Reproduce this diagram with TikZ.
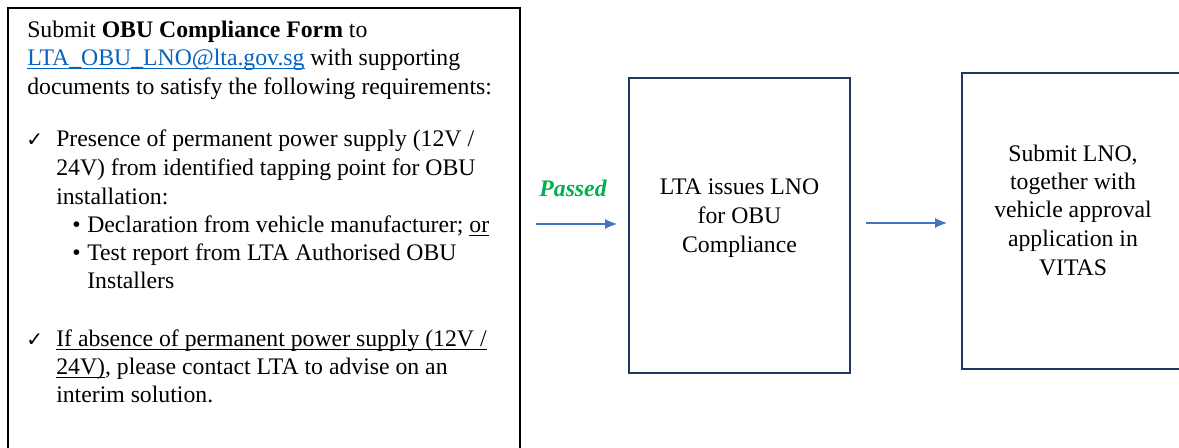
\documentclass[tikz,border=0pt]{standalone}
\usepackage{fontspec}
\setmainfont{Liberation Serif}
\newfontfamily\symfont{DejaVu Sans}
\usetikzlibrary{arrows.meta}
\definecolor{navy}{HTML}{1F3864}
\definecolor{linkblue}{HTML}{0563C1}
\definecolor{arrblue}{HTML}{4472C4}
\definecolor{passgreen}{HTML}{00B050}
\newcommand{\myul}[1]{\setbox0\hbox{#1}\rlap{\rule[-2.5pt]{\wd0}{0.7pt}}\box0}
\newcommand{\chk}{{\symfont\fontsize{15pt}{15pt}\selectfont ✓}}
\begin{document}
\begin{tikzpicture}[x=0.75pt, y=-0.75pt,
  txt/.style={anchor=base west, inner sep=0pt, font=\fontsize{17.8pt}{21.4pt}\selectfont},
  ctxt/.style={anchor=base, inner sep=0pt, font=\fontsize{17.8pt}{21.4pt}\selectfont},
  stepbox/.style={draw=navy, line width=1.5pt, inner sep=0pt},
  arr/.style={draw=arrblue, line width=0.8pt, -{Latex[length=9pt,width=7.5pt]}}]
\clip (0,0) rectangle (1179,448);
\fill[white] (0,0) rectangle (1179,448);
% boxes
\node[draw=black, line width=1.5pt, inner sep=0pt, minimum width={512*0.75pt}, minimum height={462*0.75pt}] (left) at (264,239) {};
\node[stepbox, minimum width={221*0.75pt}, minimum height={295*0.75pt}] (mid) at (739.5,225.5) {};
\node[stepbox, minimum width={238*0.75pt}, minimum height={296*0.75pt}] (right) at (1081,221) {};
% left text
\node[txt] (l1) at (27,38) {Submit \textbf{OBU Compliance Form} to};
\node[txt] (l2) at (27,66) {\textcolor{linkblue}{\myul{LTA\_OBU\_LNO@lta.gov.sg}} with supporting};
\node[txt] (l3) at (27,95) {documents to satisfy the following requirements:};
\node[txt] (c1) at (26,147) {\chk};
\node[txt] (l4) at (56,147) {Presence of permanent power supply (12V /};
\node[txt] (l5) at (56,176) {24V) from identified tapping point for OBU};
\node[txt] (l6) at (56,205) {installation:};
\node[txt] (b1) at (72,233) {\textbullet};
\node[txt] (l7) at (87,233) {Declaration from vehicle manufacturer; \myul{or}};
\node[txt] (b2) at (72,261) {\textbullet};
\node[txt] (l8) at (87,261) {Test report from LTA Authorised OBU};
\node[txt] (l9) at (87,289) {Installers};
\node[txt] (c2) at (26,347) {\chk};
\node[txt] (l10) at (56,347) {\myul{If absence of permanent power supply (12V /}};
\node[txt] (l11) at (56,375) {\myul{24V)}, please contact LTA to advise on an};
\node[txt] (l12) at (56,403) {interim solution.};
% middle text
\node[ctxt] (m1) at (739.5,195) {LTA issues LNO};
\node[ctxt] (m2) at (739.5,224) {for OBU};
\node[ctxt] (m3) at (739.5,253) {Compliance};
% right text
\node[ctxt] (r1) at (1073,162) {Submit LNO,};
\node[ctxt] (r2) at (1073,190) {together with};
\node[ctxt] (r3) at (1073,218) {vehicle approval};
\node[ctxt] (r4) at (1073,247) {application in};
\node[ctxt] (r5) at (1073,276) {VITAS};
% passed label
\node[ctxt, text=passgreen, font=\fontsize{17.8pt}{21.4pt}\selectfont\bfseries\itshape] (pass) at (573,197) {Passed};
% arrows
\draw[arr, shorten <=11.25pt, shorten >=8.25pt] (left.east |- 0,224) -- (mid.west |- 0,224);
\draw[arr, shorten <=11.25pt, shorten >=10.5pt] (mid.east |- 0,223) -- (right.west |- 0,223);
\end{tikzpicture}
\end{document}
